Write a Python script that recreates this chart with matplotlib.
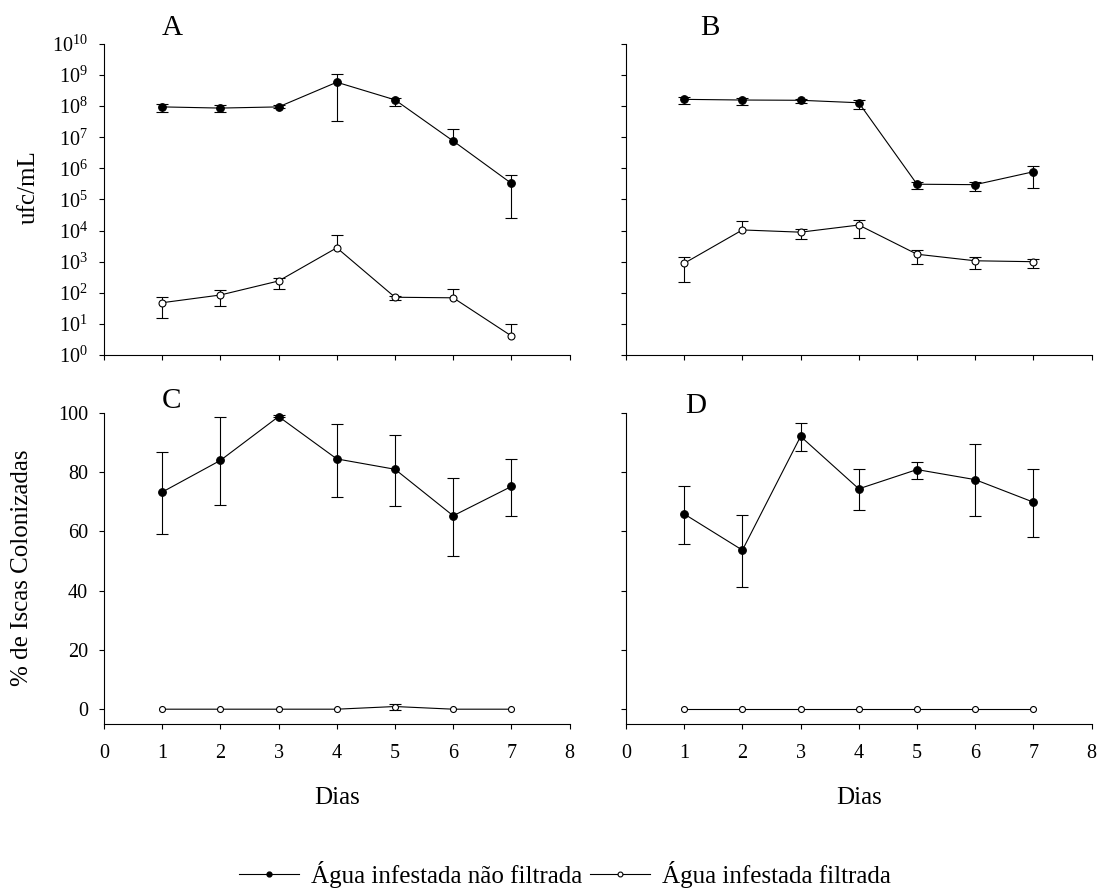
import matplotlib
matplotlib.use('Agg')
import matplotlib.pyplot as plt
from matplotlib.lines import Line2D
import numpy as np

# fonte parecida com Times
plt.rcParams['font.family'] = ['Liberation Serif', 'DejaVu Serif']
plt.rcParams['mathtext.fontset'] = 'custom'
plt.rcParams['mathtext.rm'] = 'Liberation Serif'
plt.rcParams['mathtext.it'] = 'Liberation Serif:italic'

dias = [1, 2, 3, 4, 5, 6, 7]

# A - ufc/mL (agua nao filtrada / filtrada), media e limites da barra de erro
a_nf = [9.5e7, 8.7e7, 9.5e7, 5.9e8, 1.6e8, 7.6e6, 3.3e5]
a_nf_sup = [1.15e8, 1.07e8, 1.07e8, 1.1e9, 1.8e8, 1.8e7, 6.0e5]
a_nf_inf = [6.3e7, 6.3e7, 8.5e7, 3.3e7, 1.05e8, 7.6e6, 2.5e4]
a_f = [48, 85, 240, 2800, 72, 69, 4.1]
a_f_sup = [76, 120, 310, 7100, 79, 135, 10.2]
a_f_inf = [15, 39, 135, 2800, 58, 69, 4.1]

# B - ufc/mL
b_nf = [1.66e8, 1.58e8, 1.55e8, 1.29e8, 3.1e5, 3.0e5, 7.8e5]
b_nf_sup = [2.0e8, 1.86e8, 1.74e8, 1.62e8, 3.55e5, 3.7e5, 1.23e6]
b_nf_inf = [1.15e8, 1.12e8, 1.26e8, 7.9e7, 2.24e5, 1.86e5, 2.3e5]
b_f = [890, 10500, 8900, 15100, 1740, 1070, 1000]
b_f_sup = [1380, 21000, 11500, 22400, 2400, 1410, 1260]
b_f_inf = [224, 10500, 5250, 5750, 830, 590, 650]

# C - % de iscas colonizadas
c_nf = [73.3, 84.0, 98.8, 84.5, 81.0, 65.3, 75.2]
c_nf_sup = [86.7, 98.6, 99.3, 96.3, 92.5, 78.2, 84.6]
c_nf_inf = [59.3, 68.8, 98.5, 71.8, 68.7, 51.8, 65.2]
c_f = [0, 0, 0, 0, 0.9, 0, 0]
c_f_sup = [0, 0, 0, 0, 1.9, 0, 0]
c_f_inf = [0, 0, 0, 0, -0.4, 0, 0]

# D - % de iscas colonizadas
d_nf = [65.9, 53.7, 92.1, 74.4, 80.9, 77.5, 69.9]
d_nf_sup = [75.3, 65.4, 96.5, 81.2, 83.6, 89.6, 81.0]
d_nf_inf = [55.9, 41.3, 87.3, 67.1, 77.7, 65.1, 58.3]
d_f = [0, 0, 0, 0, 0, 0, 0]
d_f_sup = [0, 0, 0, 0, 0, 0, 0]
d_f_inf = [0, 0, 0, 0, 0, 0, 0]

rotulos = ['Água infestada não filtrada', 'Água infestada filtrada']


def serie(ax, y, sup, inf, cheio, ms):
    y = np.array(y, dtype=float)
    sup = np.array(sup, dtype=float)
    inf = np.array(inf, dtype=float)
    x = np.array(dias)
    # barras verticais sem caps
    ax.errorbar(x, y, yerr=[y - inf, sup - y], fmt='none', ecolor='black',
                elinewidth=0.8, capsize=0, zorder=2)
    # caps so onde existe barra
    m = sup > y
    ax.plot(x[m], sup[m], ls='none', marker='_', ms=8, mew=0.8, color='black', zorder=2)
    m = inf < y
    ax.plot(x[m], inf[m], ls='none', marker='_', ms=8, mew=0.8, color='black', zorder=2)
    face = 'black' if cheio else 'white'
    ax.plot(x, y, color='black', lw=0.8, marker='o', ms=ms, mfc=face,
            mec='black', mew=0.8, zorder=3)


fig = plt.figure(figsize=(11.01, 8.93), dpi=100)
w, h = 465.6 / 1101, 311 / 893
axA = fig.add_axes([104 / 1101, 1 - 355 / 893, w, h])
axB = fig.add_axes([626 / 1101, 1 - 355 / 893, w, h])
axC = fig.add_axes([104 / 1101, 1 - 724 / 893, w, h])
axD = fig.add_axes([626 / 1101, 1 - 724 / 893, w, h])

serie(axA, a_nf, a_nf_sup, a_nf_inf, True, 5.5)
serie(axA, a_f, a_f_sup, a_f_inf, False, 5)
serie(axB, b_nf, b_nf_sup, b_nf_inf, True, 5.5)
serie(axB, b_f, b_f_sup, b_f_inf, False, 5)
serie(axC, c_nf, c_nf_sup, c_nf_inf, True, 5.5)
serie(axC, c_f, c_f_sup, c_f_inf, False, 4.3)
serie(axD, d_nf, d_nf_sup, d_nf_inf, True, 5.5)
serie(axD, d_f, d_f_sup, d_f_inf, False, 4.3)

for ax in [axA, axB, axC, axD]:
    ax.spines['top'].set_visible(False)
    ax.spines['right'].set_visible(False)
    ax.spines['left'].set_linewidth(0.8)
    ax.spines['bottom'].set_linewidth(0.8)
    ax.set_xlim(0, 8)
    ax.set_xticks(range(0, 9))
    ax.tick_params(direction='out', length=3.5, width=0.8, labelsize=14.5)
    ax.tick_params(axis='x', pad=11)
    ax.tick_params(axis='y', pad=8)

for ax in [axA, axB]:
    ax.set_yscale('log')
    ax.set_ylim(1, 1e10)
    ax.set_yticks([10.0 ** k for k in range(11)])
    ax.minorticks_off()
    ax.set_xticklabels([])
axA.set_yticklabels([r'$\mathregular{10^{%d}}$' % k for k in range(11)])
axB.set_yticklabels([])

for ax in [axC, axD]:
    ax.set_ylim(-5, 100)
    ax.set_yticks([0, 20, 40, 60, 80, 100])
axD.set_yticklabels([])

# letras dos paineis
axA.text(0.125, 1.029, 'A', transform=axA.transAxes, fontsize=21, va='baseline')
axB.text(0.159, 1.029, 'B', transform=axB.transAxes, fontsize=21, va='baseline')
axC.text(0.125, 1.016, 'C', transform=axC.transAxes, fontsize=21, va='baseline')
axD.text(0.127, 1.0, 'D', transform=axD.transAxes, fontsize=21, va='baseline')

# rotulos dos eixos
fig.text(29 / 1101, 1 - 187 / 893, 'ufc/mL', rotation=90, ha='center', va='center', fontsize=18)
fig.text(22 / 1101, 1 - 568 / 893, '% de Iscas Colonizadas', rotation=90, ha='center',
         va='center', fontsize=18)
fig.text(337 / 1101, 1 - 798 / 893, 'Dias', ha='center', va='center', fontsize=18)
fig.text(859 / 1101, 1 - 798 / 893, 'Dias', ha='center', va='center', fontsize=18)

# legenda
h1 = Line2D([], [], color='black', lw=0.8, marker='o', ms=3.5, mfc='black', mec='black')
h2 = Line2D([], [], color='black', lw=0.8, marker='o', ms=3.5, mfc='white', mec='black', mew=0.8)
fig.legend([h1, h2], rotulos, loc='center', bbox_to_anchor=(565 / 1101, 1 - 874 / 893),
           ncol=2, frameon=False, fontsize=18, handlelength=2.4, handletextpad=0.5,
           columnspacing=0.3)

fig.savefig('out.png', dpi=100)
